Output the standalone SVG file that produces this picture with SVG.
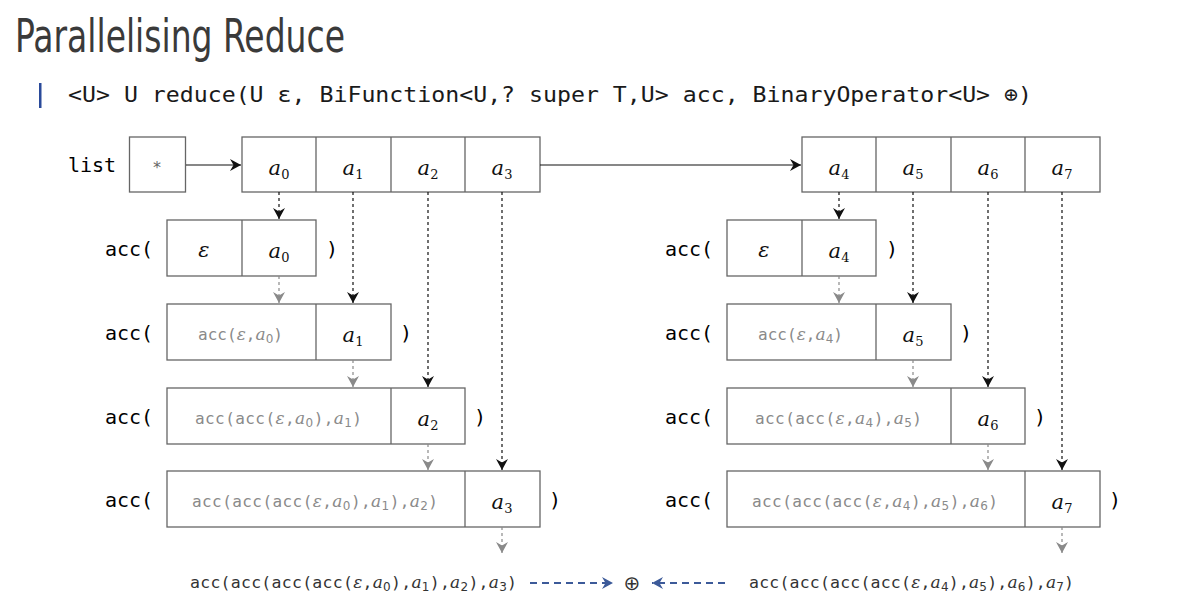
<svg xmlns="http://www.w3.org/2000/svg" width="1184" height="612" viewBox="0 0 1184 612">
<style>
.box{fill:#fff;stroke:#666;stroke-width:1.3}
.title{font-family:'Liberation Sans Narrow','DejaVu Sans Condensed','Liberation Sans',sans-serif;font-size:46px;fill:#3a3a3a}
.code{font-family:'DejaVu Sans Mono','Liberation Mono',monospace;font-size:22px;fill:#1a1a1a}
.lbl{font-family:'DejaVu Sans Mono','Liberation Mono',monospace;font-size:20px;fill:#000}
.v{font-family:'DejaVu Serif','Liberation Serif',serif;font-size:21px;fill:#111;text-anchor:middle}
.i{font-style:italic}
.s{font-size:13px;font-style:normal}
.ex{font-family:'DejaVu Sans Mono','Liberation Mono',monospace;font-size:16px;fill:#8a8a8a;text-anchor:middle}
.bx{font-family:'DejaVu Sans Mono','Liberation Mono',monospace;font-size:16.5px;fill:#333}
.ex .s,.bx .s{font-family:'DejaVu Sans','Liberation Sans',sans-serif;font-size:12px}
.e{font-family:'DejaVu Serif','Liberation Serif',serif;font-style:italic;font-size:17px}
.k{stroke:#111;stroke-width:1.2;fill:none}
.kd{stroke:#111;stroke-width:1.2;stroke-dasharray:3 3;fill:none}
.gd{stroke:#8a8a8a;stroke-width:1.2;stroke-dasharray:3 3;fill:none}
.bd{stroke:#3c5a99;stroke-width:2;stroke-dasharray:7 5;fill:none}
</style>
<defs>
<marker id="ak" markerWidth="12" markerHeight="12" refX="11" refY="6" orient="auto" markerUnits="userSpaceOnUse"><path d="M0,0 L11,6 L0,12 L3.5,6 z" fill="#111"/></marker>
<marker id="ag" markerWidth="12" markerHeight="12" refX="11" refY="6" orient="auto" markerUnits="userSpaceOnUse"><path d="M0,0 L11,6 L0,12 L3.5,6 z" fill="#8a8a8a"/></marker>
<marker id="ab" markerWidth="12" markerHeight="12" refX="11" refY="6" orient="auto" markerUnits="userSpaceOnUse"><path d="M0,0 L11,6 L0,12 L3.5,6 z" fill="#3c5a99"/></marker>
</defs>
<rect width="1184" height="612" fill="#fff"/>

<g id="header">
<text class="title" x="15" y="52" textLength="330" lengthAdjust="spacingAndGlyphs">Parallelising Reduce</text>
<rect x="39" y="83" width="2.5" height="25" fill="#2a4a9a"/>
<text class="code" x="68" y="102" textLength="964" lengthAdjust="spacingAndGlyphs">&lt;U&gt; U reduce(U ε, BiFunction&lt;U,? super T,U&gt; acc, BinaryOperator&lt;U&gt; ⊕)</text>
</g>

<g id="list-head">
<text class="lbl" x="68" y="172">list</text>
<rect class="box" x="129.5" y="137" width="56" height="55"/>
<text x="157" y="173" font-family="'DejaVu Sans',sans-serif" font-size="16" fill="#666" text-anchor="middle">*</text>
</g>

<g id="list-left">
<rect class="box" x="242" y="137" width="298" height="55"/>
<path d="M316,137V192M391,137V192M465,137V192" stroke="#666" stroke-width="1.3"/>
<text class="v" x="279" y="175"><tspan class="i">a</tspan><tspan class="s" dy="4">0</tspan></text>
<text class="v" x="353" y="175"><tspan class="i">a</tspan><tspan class="s" dy="4">1</tspan></text>
<text class="v" x="428" y="175"><tspan class="i">a</tspan><tspan class="s" dy="4">2</tspan></text>
<text class="v" x="502" y="175"><tspan class="i">a</tspan><tspan class="s" dy="4">3</tspan></text>
</g>

<g id="list-right">
<rect class="box" x="802" y="137" width="298" height="55"/>
<path d="M876,137V192M951,137V192M1025,137V192" stroke="#666" stroke-width="1.3"/>
<text class="v" x="839" y="175"><tspan class="i">a</tspan><tspan class="s" dy="4">4</tspan></text>
<text class="v" x="913" y="175"><tspan class="i">a</tspan><tspan class="s" dy="4">5</tspan></text>
<text class="v" x="988" y="175"><tspan class="i">a</tspan><tspan class="s" dy="4">6</tspan></text>
<text class="v" x="1062" y="175"><tspan class="i">a</tspan><tspan class="s" dy="4">7</tspan></text>
</g>

<!-- left rows -->
<g id="row1-left">
<text class="lbl" x="105" y="256">acc(</text>
<rect class="box" x="167" y="220" width="149" height="56"/>
<path d="M242,220V276" stroke="#666" stroke-width="1.3"/>
<text class="v" x="204" y="257"><tspan class="i">ε</tspan></text>
<text class="v" x="279" y="258"><tspan class="i">a</tspan><tspan class="s" dy="4">0</tspan></text>
<text class="lbl" x="326" y="256">)</text>
</g>
<g id="row2-left">
<text class="lbl" x="105" y="340">acc(</text>
<rect class="box" x="167" y="304" width="224" height="56"/>
<path d="M316,304V360" stroke="#666" stroke-width="1.3"/>
<text class="ex" x="240.5" y="340" textLength="85">acc(<tspan class="e">ε</tspan>,<tspan class="e">a</tspan><tspan class="s" dy="3">0</tspan><tspan dy="-3">)</tspan></text>
<text class="v" x="353" y="342"><tspan class="i">a</tspan><tspan class="s" dy="4">1</tspan></text>
<text class="lbl" x="400" y="340">)</text>
</g>
<g id="row3-left">
<text class="lbl" x="105" y="424">acc(</text>
<rect class="box" x="167" y="388" width="298" height="56"/>
<path d="M391,388V444" stroke="#666" stroke-width="1.3"/>
<text class="ex" x="278.5" y="424" textLength="167">acc(acc(<tspan class="e">ε</tspan>,<tspan class="e">a</tspan><tspan class="s" dy="3">0</tspan><tspan dy="-3">),</tspan><tspan class="e">a</tspan><tspan class="s" dy="3">1</tspan><tspan dy="-3">)</tspan></text>
<text class="v" x="428" y="426"><tspan class="i">a</tspan><tspan class="s" dy="4">2</tspan></text>
<text class="lbl" x="474" y="424">)</text>
</g>
<g id="row4-left">
<text class="lbl" x="105" y="507">acc(</text>
<rect class="box" x="167" y="471" width="373" height="56"/>
<path d="M465,471V527" stroke="#666" stroke-width="1.3"/>
<text class="ex" x="315" y="507" textLength="246">acc(acc(acc(<tspan class="e">ε</tspan>,<tspan class="e">a</tspan><tspan class="s" dy="3">0</tspan><tspan dy="-3">),</tspan><tspan class="e">a</tspan><tspan class="s" dy="3">1</tspan><tspan dy="-3">),</tspan><tspan class="e">a</tspan><tspan class="s" dy="3">2</tspan><tspan dy="-3">)</tspan></text>
<text class="v" x="502" y="509"><tspan class="i">a</tspan><tspan class="s" dy="4">3</tspan></text>
<text class="lbl" x="549" y="507">)</text>
</g>

<!-- right rows -->
<g id="row1-right">
<text class="lbl" x="665" y="256">acc(</text>
<rect class="box" x="727" y="220" width="149" height="56"/>
<path d="M802,220V276" stroke="#666" stroke-width="1.3"/>
<text class="v" x="764" y="257"><tspan class="i">ε</tspan></text>
<text class="v" x="839" y="258"><tspan class="i">a</tspan><tspan class="s" dy="4">4</tspan></text>
<text class="lbl" x="886" y="256">)</text>
</g>
<g id="row2-right">
<text class="lbl" x="665" y="340">acc(</text>
<rect class="box" x="727" y="304" width="224" height="56"/>
<path d="M876,304V360" stroke="#666" stroke-width="1.3"/>
<text class="ex" x="800.5" y="340" textLength="85">acc(<tspan class="e">ε</tspan>,<tspan class="e">a</tspan><tspan class="s" dy="3">4</tspan><tspan dy="-3">)</tspan></text>
<text class="v" x="913" y="342"><tspan class="i">a</tspan><tspan class="s" dy="4">5</tspan></text>
<text class="lbl" x="960" y="340">)</text>
</g>
<g id="row3-right">
<text class="lbl" x="665" y="424">acc(</text>
<rect class="box" x="727" y="388" width="298" height="56"/>
<path d="M951,388V444" stroke="#666" stroke-width="1.3"/>
<text class="ex" x="838.5" y="424" textLength="167">acc(acc(<tspan class="e">ε</tspan>,<tspan class="e">a</tspan><tspan class="s" dy="3">4</tspan><tspan dy="-3">),</tspan><tspan class="e">a</tspan><tspan class="s" dy="3">5</tspan><tspan dy="-3">)</tspan></text>
<text class="v" x="988" y="426"><tspan class="i">a</tspan><tspan class="s" dy="4">6</tspan></text>
<text class="lbl" x="1034" y="424">)</text>
</g>
<g id="row4-right">
<text class="lbl" x="665" y="507">acc(</text>
<rect class="box" x="727" y="471" width="373" height="56"/>
<path d="M1025,471V527" stroke="#666" stroke-width="1.3"/>
<text class="ex" x="875" y="507" textLength="246">acc(acc(acc(<tspan class="e">ε</tspan>,<tspan class="e">a</tspan><tspan class="s" dy="3">4</tspan><tspan dy="-3">),</tspan><tspan class="e">a</tspan><tspan class="s" dy="3">5</tspan><tspan dy="-3">),</tspan><tspan class="e">a</tspan><tspan class="s" dy="3">6</tspan><tspan dy="-3">)</tspan></text>
<text class="v" x="1062" y="509"><tspan class="i">a</tspan><tspan class="s" dy="4">7</tspan></text>
<text class="lbl" x="1109" y="507">)</text>
</g>

<g id="result-left">
<text class="bx" x="190" y="588" textLength="327">acc(acc(acc(acc(<tspan class="e">ε</tspan>,<tspan class="e">a</tspan><tspan class="s" dy="3">0</tspan><tspan dy="-3">),</tspan><tspan class="e">a</tspan><tspan class="s" dy="3">1</tspan><tspan dy="-3">),</tspan><tspan class="e">a</tspan><tspan class="s" dy="3">2</tspan><tspan dy="-3">),</tspan><tspan class="e">a</tspan><tspan class="s" dy="3">3</tspan><tspan dy="-3">)</tspan></text>
</g>
<g id="combine">
<text x="632" y="590" font-family="'DejaVu Sans',sans-serif" font-size="20" fill="#333" text-anchor="middle">⊕</text>
</g>
<g id="result-right">
<text class="bx" x="749" y="588" textLength="325">acc(acc(acc(acc(<tspan class="e">ε</tspan>,<tspan class="e">a</tspan><tspan class="s" dy="3">4</tspan><tspan dy="-3">),</tspan><tspan class="e">a</tspan><tspan class="s" dy="3">5</tspan><tspan dy="-3">),</tspan><tspan class="e">a</tspan><tspan class="s" dy="3">6</tspan><tspan dy="-3">),</tspan><tspan class="e">a</tspan><tspan class="s" dy="3">7</tspan><tspan dy="-3">)</tspan></text>
</g>

<g id="connectors">
<path class="k" d="M186,165H241" marker-end="url(#ak)"/>
<path class="k" d="M540,165H801" marker-end="url(#ak)"/>
<path class="kd" d="M279,192V219" marker-end="url(#ak)"/>
<path class="kd" d="M353,192V303" marker-end="url(#ak)"/>
<path class="kd" d="M428,192V387" marker-end="url(#ak)"/>
<path class="kd" d="M502,192V470" marker-end="url(#ak)"/>
<path class="kd" d="M839,192V219" marker-end="url(#ak)"/>
<path class="kd" d="M913,192V303" marker-end="url(#ak)"/>
<path class="kd" d="M988,192V387" marker-end="url(#ak)"/>
<path class="kd" d="M1062,192V470" marker-end="url(#ak)"/>
<path class="gd" d="M279,276V303" marker-end="url(#ag)"/>
<path class="gd" d="M353,360V387" marker-end="url(#ag)"/>
<path class="gd" d="M428,444V470" marker-end="url(#ag)"/>
<path class="gd" d="M502,527V553" marker-end="url(#ag)"/>
<path class="gd" d="M839,276V303" marker-end="url(#ag)"/>
<path class="gd" d="M913,360V387" marker-end="url(#ag)"/>
<path class="gd" d="M988,444V470" marker-end="url(#ag)"/>
<path class="gd" d="M1062,527V553" marker-end="url(#ag)"/>
<path class="bd" d="M530,583H613" marker-end="url(#ab)"/>
<path class="bd" d="M725,583H652" marker-end="url(#ab)"/>
</g>
</svg>
